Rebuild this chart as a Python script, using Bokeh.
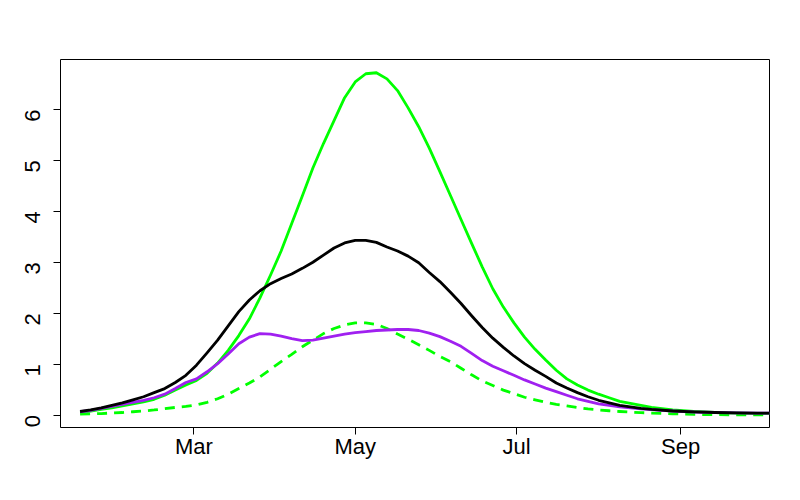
import math
from bokeh.plotting import figure
from bokeh.models import FixedTicker, Range1d
from bokeh.embed import file_html
from bokeh.resources import INLINE

# day of year grid
days = [17, 21, 25, 29, 33, 37, 41, 45, 49, 53, 57, 61, 65, 69, 73, 77, 81, 85, 89, 93,
        97, 101, 105, 109, 113, 117, 121, 125, 129, 133, 137, 141, 145, 149, 153, 157,
        161, 165, 169, 173, 177, 181, 185, 189, 193, 197, 201, 205, 209, 213, 217, 221,
        225, 229, 233, 241, 249, 257, 265, 273, 281]

black_vals = [0.07, 0.10, 0.14, 0.19, 0.24, 0.30, 0.36, 0.44, 0.52, 0.64, 0.78, 0.98,
              1.22, 1.47, 1.75, 2.03, 2.26, 2.44, 2.58, 2.68, 2.77, 2.88, 3.00, 3.14,
              3.28, 3.38, 3.43, 3.43, 3.39, 3.30, 3.22, 3.12, 2.99, 2.80, 2.62, 2.41,
              2.19, 1.95, 1.72, 1.51, 1.33, 1.16, 1.01, 0.88, 0.76, 0.63, 0.53, 0.44,
              0.36, 0.29, 0.24, 0.19, 0.16, 0.13, 0.11, 0.08, 0.062, 0.05, 0.043, 0.04,
              0.04]

purple_vals = [0.065, 0.09, 0.13, 0.17, 0.21, 0.25, 0.29, 0.34, 0.41, 0.52, 0.64, 0.71,
               0.85, 1.01, 1.20, 1.40, 1.53, 1.60, 1.59, 1.55, 1.50, 1.46, 1.47, 1.51,
               1.55, 1.59, 1.62, 1.64, 1.66, 1.67, 1.68, 1.68, 1.66, 1.61, 1.54, 1.45,
               1.35, 1.21, 1.07, 0.96, 0.87, 0.78, 0.69, 0.61, 0.53, 0.46, 0.39, 0.32,
               0.27, 0.22, 0.19, 0.16, 0.14, 0.12, 0.105, 0.08, 0.06, 0.05, 0.045, 0.04,
               0.04]

green_vals = [0.05, 0.08, 0.11, 0.14, 0.18, 0.22, 0.26, 0.31, 0.39, 0.49, 0.59, 0.68,
              0.82, 1.02, 1.27, 1.56, 1.89, 2.30, 2.75, 3.22, 3.76, 4.30, 4.85, 5.33,
              5.78, 6.23, 6.54, 6.70, 6.72, 6.60, 6.37, 6.03, 5.66, 5.24, 4.78, 4.31,
              3.84, 3.37, 2.91, 2.48, 2.12, 1.81, 1.53, 1.29, 1.08, 0.88, 0.71, 0.59,
              0.49, 0.41, 0.34, 0.27, 0.23, 0.19, 0.15, 0.10, 0.07, 0.05, 0.04, 0.035,
              0.03]

green_dash_vals = [0.02, 0.025, 0.03, 0.04, 0.05, 0.065, 0.08, 0.10, 0.125, 0.15, 0.17,
                   0.20, 0.25, 0.32, 0.41, 0.52, 0.63, 0.75, 0.90, 1.05, 1.19, 1.34,
                   1.47, 1.60, 1.70, 1.77, 1.81, 1.81, 1.78, 1.70, 1.59, 1.49, 1.38,
                   1.27, 1.15, 1.05, 0.92, 0.79, 0.67, 0.58, 0.49, 0.42, 0.35, 0.30,
                   0.25, 0.21, 0.18, 0.15, 0.12, 0.10, 0.085, 0.07, 0.058, 0.048, 0.04,
                   0.025, 0.012, 0.008, 0.005, 0.003, 0.002]

month_ticks = [60, 121, 182, 244]
month_labels = ["Mar", "May", "Jul", "Sep"]
y_ticks = [0, 1, 2, 3, 4, 5, 6]

p = figure(width=784, height=484, output_backend="svg", toolbar_location=None,
           x_range=Range1d(9.6, 277.6), y_range=Range1d(-0.244, 6.98),
           min_border_left=60, min_border_right=15, min_border_top=59,
           min_border_bottom=57)

p.background_fill_color = "white"
p.border_fill_color = "white"
p.outline_line_color = "black"
p.outline_line_width = 1
p.grid.visible = False

FONT = "Liberation Sans"

p.xaxis.ticker = FixedTicker(ticks=month_ticks)
p.xaxis.major_label_overrides = {t: l for t, l in zip(month_ticks, month_labels)}
p.yaxis.ticker = FixedTicker(ticks=y_ticks)
p.yaxis.major_label_orientation = math.pi / 2

for ax in (p.xaxis[0], p.yaxis[0]):
    ax.axis_line_color = None
    ax.major_tick_in = 0
    ax.major_tick_out = 7
    ax.major_tick_line_color = "black"
    ax.major_tick_line_width = 1
    ax.minor_tick_line_color = None
    ax.major_label_text_font = FONT
    ax.major_label_text_font_size = "22px"
    ax.major_label_text_color = "black"

p.xaxis.major_label_standoff = -1
p.yaxis.major_label_standoff = 21

common = dict(line_width=2.8, line_join="round")
p.line(days, green_vals, line_color="#00FF00", **common)
p.line(days, green_dash_vals, line_color="#00FF00", line_dash="10 7", **common)
p.line(days, purple_vals, line_color="#A020F0", **common)
p.line(days, black_vals, line_color="black", **common)

open("out.html", "w").write(file_html(p, INLINE))
